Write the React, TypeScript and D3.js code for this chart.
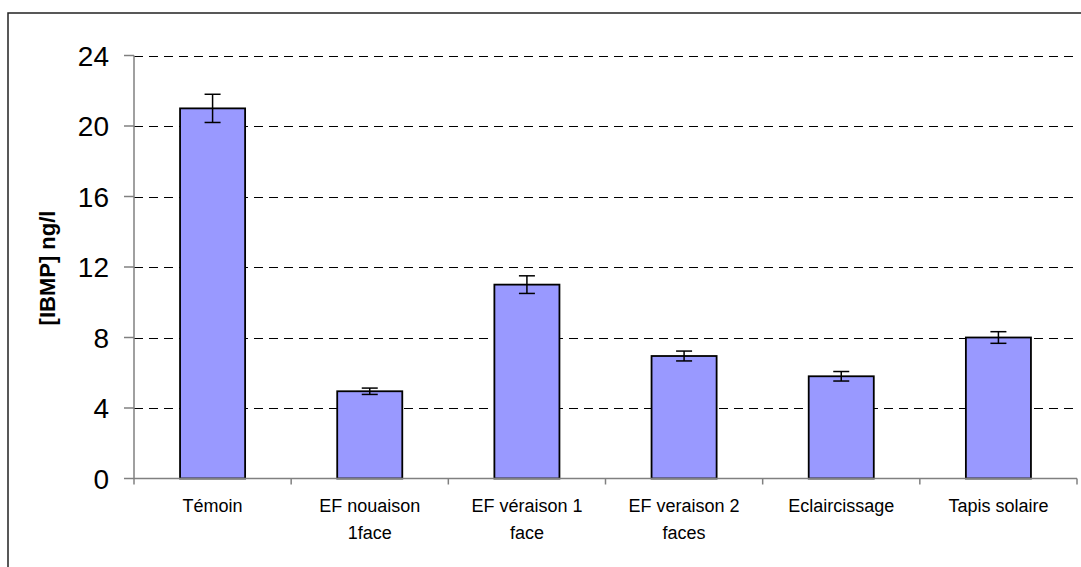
import React from "react";
import * as d3 from "d3";

const categories: string[][] = [
  ["Témoin"],
  ["EF nouaison", "1face"],
  ["EF véraison 1", "face"],
  ["EF veraison 2", "faces"],
  ["Eclaircissage"],
  ["Tapis solaire"],
];
const values: number[] = [21, 4.95, 11, 6.95, 5.8, 8];
const errors: number[] = [0.8, 0.18, 0.5, 0.28, 0.27, 0.33];
const yTicks: number[] = [0, 4, 8, 12, 16, 20, 24];
const yTitle = "[IBMP] ng/l";

const W = 1081;
const H = 567;
const left = 134;
const right = 1077;
const top = 55.5;
const bottom = 478.5;

export default function App() {
  const keys = categories.map((c) => c.join(" "));
  const y = d3.scaleLinear().domain([0, 24]).range([bottom, top]);
  const xCat = d3.scaleBand<string>().domain(keys).range([left, right]).padding(0);
  const xBar = d3
    .scaleBand<string>()
    .domain(keys)
    .range([left, right])
    .paddingInner(0.586)
    .paddingOuter(0.293);
  const font = "Arial, 'Liberation Sans', sans-serif";
  const bounds = keys.map((k) => xCat(k) as number).concat([right]);

  return (
    <svg
      width={W}
      height={H}
      style={{ position: "fixed", top: 0, left: 0, background: "#fff" }}
    >
      <rect x={0} y={0} width={W} height={H} fill="#fff" />
      <rect
        x={8}
        y={13}
        width={W + 50}
        height={H + 50}
        fill="none"
        stroke="#222"
        strokeWidth={1.5}
      />
      {/* gridlines */}
      {yTicks
        .filter((t) => t !== 0)
        .map((t) => (
          <line
            key={"g" + t}
            x1={left}
            x2={right}
            y1={Math.round(y(t)) + 0.5}
            y2={Math.round(y(t)) + 0.5}
            stroke="#000"
            strokeWidth={1}
            strokeDasharray="9,6"
          />
        ))}
      {/* y axis */}
      <line x1={left} x2={left} y1={top} y2={bottom} stroke="#808080" strokeWidth={1.5} />
      {yTicks.map((t) => (
        <g key={"yt" + t}>
          <line x1={left - 10} x2={left} y1={y(t)} y2={y(t)} stroke="#808080" strokeWidth={1.5} />
          <text
            x={109}
            y={y(t)}
            dy="0.36em"
            textAnchor="end"
            fontFamily={font}
            fontSize={28}
            fill="#000"
          >
            {t}
          </text>
        </g>
      ))}
      {/* bars */}
      {keys.map((k, i) => {
        const x0 = xBar(k) as number;
        const bw = xBar.bandwidth();
        const cx = x0 + bw / 2;
        return (
          <g key={"b" + k}>
            <rect
              x={x0}
              y={y(values[i])}
              width={bw}
              height={bottom - y(values[i])}
              fill="#9999FF"
              stroke="#000"
              strokeWidth={1.8}
            />
            <line x1={cx} x2={cx} y1={y(values[i] + errors[i])} y2={y(values[i] - errors[i])} stroke="#000" strokeWidth={1.5} />
            <line x1={cx - 8} x2={cx + 8} y1={y(values[i] + errors[i])} y2={y(values[i] + errors[i])} stroke="#000" strokeWidth={1.5} />
            <line x1={cx - 8} x2={cx + 8} y1={y(values[i] - errors[i])} y2={y(values[i] - errors[i])} stroke="#000" strokeWidth={1.5} />
          </g>
        );
      })}
      {/* x axis */}
      <line x1={left} x2={right} y1={bottom} y2={bottom} stroke="#808080" strokeWidth={1.5} />
      {bounds.map((b, i) => (
        <line key={"xt" + i} x1={b} x2={b} y1={bottom} y2={bottom + 6} stroke="#808080" strokeWidth={1.5} />
      ))}
      {categories.map((lines, i) => {
        const k = keys[i];
        const cx = (xCat(k) as number) + xCat.bandwidth() / 2;
        return (
          <text key={"xl" + k} textAnchor="middle" fontFamily={font} fontSize={18} fill="#000">
            {lines.map((ln, j) => (
              <tspan key={j} x={cx} y={512 + j * 27}>
                {ln}
              </tspan>
            ))}
          </text>
        );
      })}
      {/* y title */}
      <text
        transform={`translate(55,268) rotate(-90)`}
        textAnchor="middle"
        fontFamily={font}
        fontSize={22}
        fontWeight="bold"
        fill="#000"
      >
        {yTitle}
      </text>
    </svg>
  );
}
